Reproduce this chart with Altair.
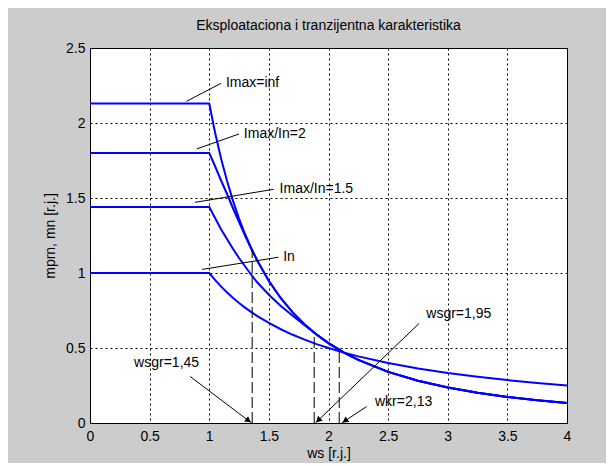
import math
import altair as alt
import pandas as pd

# ---- data ----
WS = [0, 1.0, 1.05, 1.1, 1.15, 1.2, 1.25, 1.3, 1.35, 1.4, 1.5, 1.6, 1.7, 1.8, 1.9, 2.0,
      2.13, 2.25, 2.5, 2.75, 3.0, 3.25, 3.5, 3.75, 4.0]
M_INF = [2.13, 2.13, 1.932, 1.760, 1.611, 1.479, 1.363, 1.260, 1.169, 1.087, 0.947, 0.832,
         0.737, 0.657, 0.590, 0.533, 0.469, 0.421, 0.341, 0.282, 0.237, 0.202, 0.174, 0.151, 0.133]
M_2 = [1.80, 1.80, 1.71, 1.615, 1.525, 1.43, 1.34, 1.25, 1.165, 1.087, 0.947, 0.832,
       0.737, 0.657, 0.590, 0.533, 0.469, 0.421, 0.341, 0.282, 0.237, 0.202, 0.174, 0.151, 0.133]
M_15 = [1.44, 1.44, 1.365, 1.29, 1.225, 1.16, 1.10, 1.045, 0.99, 0.94, 0.855, 0.78,
        0.715, 0.652, 0.590, 0.533, 0.469, 0.421, 0.341, 0.282, 0.237, 0.202, 0.174, 0.151, 0.133]
M_IN = [1.0, 1.0, 0.952, 0.909, 0.870, 0.833, 0.800, 0.769, 0.741, 0.714, 0.667, 0.625,
        0.588, 0.556, 0.526, 0.500, 0.469, 0.444, 0.400, 0.364, 0.333, 0.308, 0.286, 0.267, 0.250]
CURVE_NAMES = ["Imax=inf", "Imax/In=2", "Imax/In=1.5", "In"]

XTICKS = [0, 0.5, 1, 1.5, 2, 2.5, 3, 3.5, 4]
YTICKS = [0, 0.5, 1, 1.5, 2, 2.5]

# label pointer lines: start, end, text position
LABELS = ["Imax=inf", "Imax/In=2", "Imax/In=1.5", "In"]
LAB_X0 = [0.81, 0.895, 0.88, 0.94]
LAB_Y0 = [2.145, 1.827, 1.471, 1.024]
LAB_X1 = [1.10, 1.25, 1.54, 1.58]
LAB_Y1 = [2.265, 1.927, 1.558, 1.105]
LAB_TX = [1.14, 1.29, 1.59, 1.62]
LAB_TY = [2.265, 1.927, 1.56, 1.105]

# arrows
ARR_TEXT = ["wsgr=1,45", "wsgr=1,95", "wkr=2,13"]
ARR_X0 = [0.84, 2.76, 2.32]
ARR_Y0 = [0.31, 0.664, 0.11]
ARR_X1 = [1.355, 1.89, 2.11]
ARR_Y1 = [0.0, 0.0, 0.0]
ARR_TX = [0.37, 2.82, 2.39]
ARR_TY = [0.40, 0.727, 0.142]

# dashed verticals
VL_X = [1.36, 1.88, 2.09]
VL_TOP = [1.16, 0.60, 0.49]

W, H = 477, 375
XMAX, YMAX = 4.0, 2.5
FONT = "Liberation Sans"

rows = []
for name, vals in zip(CURVE_NAMES, [M_INF, M_2, M_15, M_IN]):
    for w, m in zip(WS, vals):
        rows.append({"ws": w, "m": m, "curve": name})
curves_df = pd.DataFrame(rows)

lab_df = pd.DataFrame({"x": LAB_X0, "y": LAB_Y0, "x2": LAB_X1, "y2": LAB_Y1,
                       "tx": LAB_TX, "ty": LAB_TY, "t": LABELS})
arr_df = pd.DataFrame({"x": ARR_X0, "y": ARR_Y0, "x2": ARR_X1, "y2": ARR_Y1,
                       "tx": ARR_TX, "ty": ARR_TY, "t": ARR_TEXT})
vl_df = pd.DataFrame({"x": VL_X, "y": [0] * len(VL_X), "y2": VL_TOP})

# arrowhead marker placement (pixel geometry of the scales)
hx, hy, ha = [], [], []
for x0, y0, x1, y1 in zip(ARR_X0, ARR_Y0, ARR_X1, ARR_Y1):
    dx = (x1 - x0) * W / XMAX
    dy = -(y1 - y0) * H / YMAX
    L = math.hypot(dx, dy)
    back = 4.0
    cx = x1 - dx / L * back * XMAX / W
    cy = y1 + dy / L * back * YMAX / H
    hx.append(cx)
    hy.append(cy)
    ha.append(math.degrees(math.atan2(dx, -dy)) % 360)
head_df = pd.DataFrame({"x": hx, "y": hy, "a": ha})

xs = alt.Scale(domain=[0, XMAX], nice=False, zero=False)
ys = alt.Scale(domain=[0, YMAX], nice=False)

x_axis = alt.Axis(values=XTICKS, title="ws [r.j.]", labelExpr="'' + datum.value",
                  labelFlush=False, labelOverlap=False, ticks=False, labelPadding=6,
                  titlePadding=3)
y_axis = alt.Axis(values=YTICKS, title="mprn, mn [r.j.]", labelExpr="'' + datum.value",
                  labelFlush=False, labelOverlap=False, ticks=False, labelPadding=5,
                  titlePadding=8)


def X(f):
    return alt.X(f, type="quantitative", scale=xs, axis=x_axis)


def Y(f):
    return alt.Y(f, type="quantitative", scale=ys, axis=y_axis)


curves = alt.Chart(curves_df).mark_line(color="#0000ff", strokeWidth=2).encode(
    x=X("ws"), y=Y("m"), detail="curve:N", order="ws:Q")

lab_lines = alt.Chart(lab_df).mark_rule(color="#000000", strokeWidth=1).encode(
    x=X("x"), y=Y("y"), x2="x2:Q", y2="y2:Q")
lab_text = alt.Chart(lab_df).mark_text(align="left", baseline="middle", font=FONT,
                                       fontSize=14, color="#000000").encode(
    x=X("tx"), y=Y("ty"), text="t:N")

arr_lines = alt.Chart(arr_df).mark_rule(color="#000000", strokeWidth=1).encode(
    x=X("x"), y=Y("y"), x2="x2:Q", y2="y2:Q")
arr_text = alt.Chart(arr_df).mark_text(align="left", baseline="middle", font=FONT,
                                       fontSize=14, color="#000000").encode(
    x=X("tx"), y=Y("ty"), text="t:N")
heads = alt.Chart(head_df).mark_point(shape="triangle-up", filled=True, color="#000000",
                                      size=45, opacity=1).encode(
    x=X("x"), y=Y("y"), angle=alt.Angle("a:Q", scale=None))

vlines = alt.Chart(vl_df).mark_rule(color="#000000", strokeWidth=1, strokeDash=[11, 4]).encode(
    x=X("x"), y=Y("y"), y2="y2:Q")

chart = alt.layer(curves, vlines, lab_lines, lab_text, arr_lines, heads, arr_text).properties(
    width=W, height=H,
    title=alt.TitleParams("Eksploataciona i tranzijentna karakteristika", fontSize=14,
                          fontWeight="normal", font=FONT, color="#000000", offset=8),
    autosize=alt.AutoSizeParams(type="none"),
    padding={"left": 82, "top": 40, "right": 39, "bottom": 40},
    background="#cccccc",
).configure_view(
    fill="#ffffff", stroke="#000000", strokeWidth=1
).configure_axis(
    domainColor="#000000", labelColor="#000000", titleColor="#000000",
    labelFont=FONT, titleFont=FONT, labelFontSize=14, titleFontSize=14,
    titleFontWeight="normal", gridColor="#000000", gridDash=[2, 3], gridOpacity=1,
    gridWidth=1,
)

chart.save("out.html", embed_options={"renderer": "svg", "actions": False})
